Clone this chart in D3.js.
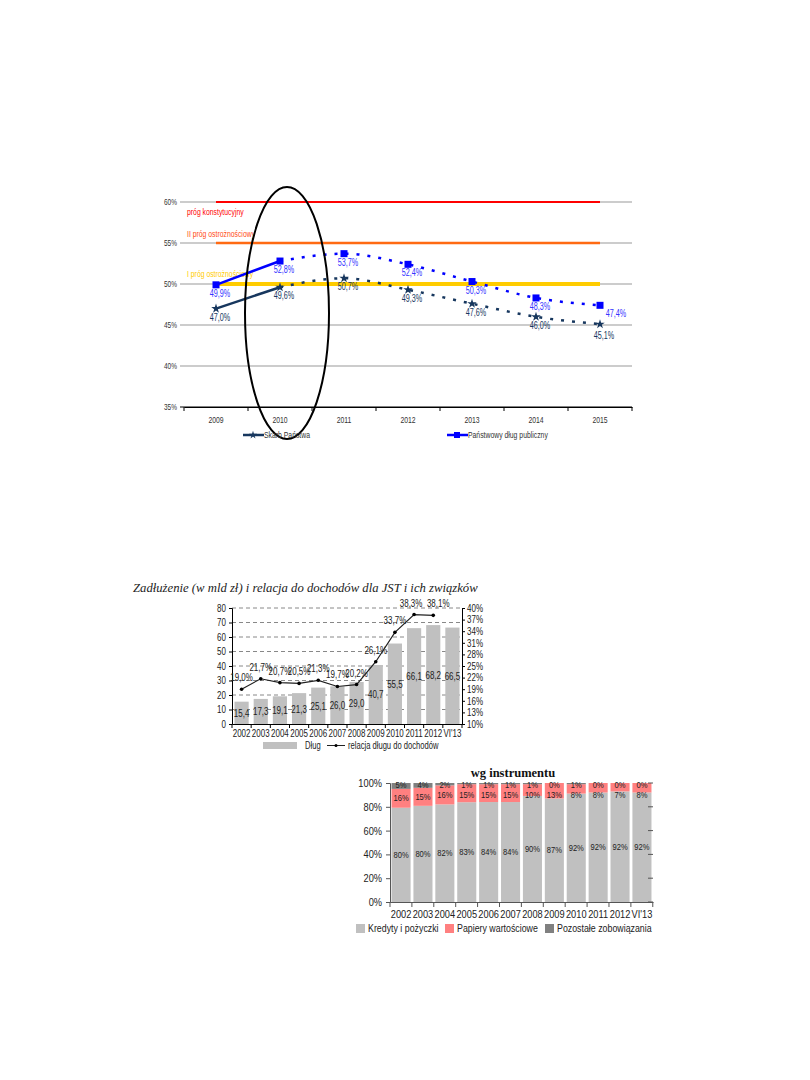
<!DOCTYPE html>
<html><head><meta charset="utf-8">
<script src="https://cdn.jsdelivr.net/npm/d3@7"></script>
<style>body{margin:0;background:#fff}svg{display:block}text{font-family:"Liberation Sans",Arial,sans-serif}</style>
</head><body>
<svg id="c" width="810" height="1080"></svg>
<script>
// ---------- Chart 1 data ----------
const years1 = ["2009","2010","2011","2012","2013","2014","2015"];
const skarbPanstwa = [47.0, 49.6, 50.7, 49.3, 47.6, 46.0, 45.1];
const panstwowyDlug = [49.9, 52.8, 53.7, 52.4, 50.3, 48.3, 47.4];
const yTicks1 = [35, 40, 45, 50, 55, 60];
const thresholds = [
  {value: 60, label: "próg konstytucyjny"},
  {value: 55, label: "II  próg ostrożnościowy"},
  {value: 50, label: "I  próg ostrożnościowy"}
];
const seriesNames1 = ["Skarb Państwa", "Państwowy dług publiczny"];

// ---------- Chart 2 data ----------
const cats2 = ["2002","2003","2004","2005","2006","2007","2008","2009","2010","2011","2012","VI'13"];
const dlug = [15.4, 17.3, 19.1, 21.3, 25.1, 26.0, 29.0, 40.7, 55.5, 66.1, 68.2, 66.5];
const relacja = [19.0, 21.7, 20.7, 20.5, 21.3, 19.7, 20.2, 26.1, 33.7, 38.3, 38.1];
const leftTicks2 = [0,10,20,30,40,50,60,70,80];
const rightTicks2 = [10,13,16,19,22,25,28,31,34,37,40];
const title2 = "Zadłużenie (w mld zł) i relacja do dochodów dla JST i ich związków";
const legend2 = ["Dług", "relacja długu do dochodów"];

// ---------- Chart 3 data ----------
const cats3 = ["2002","2003","2004","2005","2006","2007","2008","2009","2010","2011","2012","VI'13"];
const kredyty = [80, 80, 82, 83, 84, 84, 90, 87, 92, 92, 92, 92];
const papiery = [16, 15, 16, 15, 15, 15, 10, 13, 8, 8, 7, 8];
const pozostale = [5, 4, 2, 1, 1, 1, 1, 0, 1, 0, 0, 0];
const yTicks3 = [0, 20, 40, 60, 80, 100];
const title3 = "wg instrumentu";
const legend3 = ["Kredyty i pożyczki", "Papiery wartościowe", "Pozostałe zobowiązania"];

const fmt1 = v => v.toFixed(1).replace(".", ",");
const svg = d3.select("#c");
const SERIF = '"Liberation Serif","Times New Roman",serif';
// condense text horizontally (the source uses a narrow face)
function narrow(sel, f) {
  sel.each(function(){
    const L = this.getComputedTextLength();
    d3.select(this).attr("textLength", L*f).attr("lengthAdjust","spacingAndGlyphs");
  });
}

// ================= CHART 1 =================
const g1 = svg.append("g");
(function(g){
  const x = d3.scaleBand().domain(years1).range([184, 632]);
  const cx = d => x(d) + x.bandwidth()/2;
  const y = d3.scaleLinear().domain([35, 60]).range([407, 202]);

  g.selectAll(".grid").data(yTicks1).join("line")
    .attr("x1", 180).attr("x2", 632).attr("y1", d=>y(d)).attr("y2", d=>y(d))
    .attr("stroke", d => d===35 ? "#000" : "#999").attr("stroke-width", 1);
  g.selectAll(".yl").data(yTicks1).join("text")
    .attr("x", 177).attr("y", d=>y(d)+3).attr("text-anchor","end")
    .attr("font-size", 9).attr("fill","#333").text(d=>d+"%");
  const ax = g.append("g").attr("transform","translate(0,407)").call(d3.axisBottom(x).tickSize(0).tickPadding(9));
  ax.select(".domain").attr("stroke","#000");
  ax.selectAll("text").attr("font-size", 9.5).attr("fill","#333").attr("font-family", null);
  g.selectAll(".xt").data(d3.range(years1.length+1)).join("line")
    .attr("x1", i=>184+i*x.step()).attr("x2", i=>184+i*x.step())
    .attr("y1", 407).attr("y2", 411).attr("stroke","#000");

  const thColors = ["#FF0000", "#FF6A13", "#FFCC00"];
  const thWidths = [2, 2.5, 4];
  g.selectAll(".th").data(thresholds).join("line")
    .attr("x1", cx(years1[0])).attr("x2", cx(years1[years1.length-1]))
    .attr("y1", d=>y(d.value)).attr("y2", d=>y(d.value))
    .attr("stroke", (d,i)=>thColors[i]).attr("stroke-width", (d,i)=>thWidths[i]);
  const thLabelY = [215, 237, 277];
  const thLabelColors = ["#FF0000", "#FF4A13", "#FFCC00"];
  g.selectAll(".thl").data(thresholds).join("text")
    .attr("x", 187).attr("y", (d,i)=>thLabelY[i])
    .attr("font-size", 9.5).attr("fill", (d,i)=>thLabelColors[i]).text(d=>d.label);

  const series = [
    {vals: skarbPanstwa, color: "#17375E", marker: "star"},
    {vals: panstwowyDlug, color: "#0000FF", marker: "square"}
  ];
  series.forEach((s, si) => {
    const pts = years1.map((c,i)=>({c, v: s.vals[i]}));
    g.append("path").datum(pts.slice(0,2)).attr("d", d3.line().x(d=>cx(d.c)).y(d=>y(d.v)))
      .attr("fill","none").attr("stroke", s.color).attr("stroke-width", 2.5);
    g.append("path").datum(pts.slice(1)).attr("d", d3.line().x(d=>cx(d.c)).y(d=>y(d.v)).curve(d3.curveMonotoneX))
      .attr("fill","none").attr("stroke", s.color).attr("stroke-width", 2.5)
      .attr("stroke-dasharray", "3,8");
    if (s.marker === "square") {
      g.selectAll(".m"+si).data(pts).join("rect")
        .attr("x", d=>cx(d.c)-3.5).attr("y", d=>y(d.v)-3.5).attr("width",7).attr("height",7)
        .attr("fill", s.color);
    } else {
      g.selectAll(".m"+si).data(pts).join("path")
        .attr("d", d3.symbol(d3.symbolStar, 28))
        .attr("transform", d=>`translate(${cx(d.c)},${y(d.v)})`).attr("fill", s.color);
    }
    g.selectAll(".l"+si).data(pts).join("text")
      .attr("x", (d,i)=>cx(d.c) + 4 + (si===1 && i===pts.length-1 ? 12 : 0))
      .attr("y", (d,i)=>y(d.v) + 12 + (si===0 && i===pts.length-1 ? 3 : 0))
      .attr("text-anchor","middle").attr("font-size", 10)
      .attr("fill", si===0 ? "#17375E" : "#3333FF").text(d=>fmt1(d.v)+"%");
  });

  g.append("ellipse").attr("cx", 287).attr("cy", 313).attr("rx", 42).attr("ry", 126)
    .attr("fill","none").attr("stroke","#000").attr("stroke-width", 2);

  const lg = [{x: 243, color:"#17375E", marker:"star"}, {x: 447, color:"#0000FF", marker:"square"}];
  lg.forEach((l, i) => {
    g.append("line").attr("x1", l.x).attr("x2", l.x+21).attr("y1", 435).attr("y2", 435)
      .attr("stroke", l.color).attr("stroke-width", 2.5);
    if (l.marker === "square") g.append("rect").attr("x", l.x+7).attr("y", 432).attr("width",6).attr("height",6).attr("fill", l.color);
    else g.append("path").attr("d", d3.symbol(d3.symbolStar, 20)).attr("transform",`translate(${l.x+10},435)`).attr("fill", l.color);
    g.append("text").attr("x", l.x+21).attr("y", 438).attr("font-size", 9.5).attr("fill","#333").text(seriesNames1[i]);
  });
})(g1);
narrow(g1.selectAll("text"), 0.72);

// ================= CHART 2 =================
const g2 = svg.append("g");
(function(g){
  const x = d3.scaleBand().domain(cats2).range([232, 462]).paddingInner(0.26).paddingOuter(0.13);
  const yL = d3.scaleLinear().domain([0, 80]).range([724, 608]);
  const yR = d3.scaleLinear().domain([10, 40]).range([724, 608]);

  g.selectAll(".grid").data(leftTicks2.filter(d=>d>0)).join("line")
    .attr("x1", 232).attr("x2", 462).attr("y1", d=>yL(d)).attr("y2", d=>yL(d))
    .attr("stroke","#888").attr("stroke-dasharray","4,3").attr("stroke-width",1);

  g.selectAll(".bar").data(dlug).join("rect")
    .attr("x", (d,i)=>x(cats2[i])).attr("width", x.bandwidth())
    .attr("y", d=>yL(d)).attr("height", d=>724-yL(d)).attr("fill","#C0C0C0");

  const la = g.append("g").attr("transform","translate(232,0)")
    .call(d3.axisLeft(yL).tickValues(leftTicks2).tickSize(3).tickPadding(3));
  const ra = g.append("g").attr("transform","translate(462,0)")
    .call(d3.axisRight(yR).tickValues(rightTicks2).tickSize(3).tickPadding(2).tickFormat(d=>d+"%"));
  const ba = g.append("g").attr("transform","translate(0,724)")
    .call(d3.axisBottom(x).tickSize(0).tickPadding(6));
  [la, ra, ba].forEach(a => {
    a.select(".domain").attr("stroke","#000");
    a.selectAll("line").attr("stroke","#000");
    a.selectAll("text").attr("font-size", 10.5).attr("fill","#222").attr("font-family", null);
  });
  g.selectAll(".xt").data(d3.range(cats2.length+1)).join("line")
    .attr("x1", i=>232+i*x.step()).attr("x2", i=>232+i*x.step())
    .attr("y1", 724).attr("y2", 728).attr("stroke","#000");

  g.selectAll(".bl").data(dlug).join("text")
    .attr("x", (d,i)=>x(cats2[i])+x.bandwidth()/2).attr("y", d=>(yL(d)+724)/2+4)
    .attr("text-anchor","middle").attr("font-size", 10.5).attr("fill","#222").text(d=>fmt1(d));

  const pts = relacja.map((v,i)=>({c: cats2[i], v}));
  const cx = d => x(d.c) + x.bandwidth()/2;
  g.append("path").datum(pts).attr("d", d3.line().x(cx).y(d=>yR(d.v)))
    .attr("fill","none").attr("stroke","#222").attr("stroke-width",1.2);
  g.selectAll(".pt").data(pts).join("circle")
    .attr("cx", cx).attr("cy", d=>yR(d.v)).attr("r", 1.8).attr("fill","#000");
  const n = pts.length;
  g.selectAll(".pl").data(pts).join("text")
    .attr("x", (d,i)=>cx(d) + (i===n-2 ? -3 : i===n-1 ? 5 : 0)).attr("y", d=>yR(d.v)-8)
    .attr("text-anchor","middle").attr("font-size", 10.5).attr("fill","#222").text(d=>fmt1(d.v)+"%");

  g.append("rect").attr("x", 263).attr("y", 742).attr("width", 34).attr("height", 7).attr("fill","#C0C0C0");
  g.append("text").attr("x", 305).attr("y", 749).attr("font-size", 10).attr("fill","#222").text(legend2[0]);
  g.append("line").attr("x1", 327).attr("x2", 345).attr("y1", 745.5).attr("y2", 745.5).attr("stroke","#222");
  g.append("circle").attr("cx", 336).attr("cy", 745.5).attr("r", 1.5).attr("fill","#000");
  g.append("text").attr("x", 348).attr("y", 749).attr("font-size", 10).attr("fill","#222").text(legend2[1]);
})(g2);
narrow(g2.selectAll("text"), 0.76);
g2.append("text").attr("x", 133).attr("y", 592)
  .style("font-family", SERIF).style("font-style","italic")
  .attr("font-size", 12.7).attr("fill","#222").text(title2);

// ================= CHART 3 =================
const g3 = svg.append("g");
(function(g){
  const x = d3.scaleBand().domain(cats3).range([390, 653]).paddingInner(0.13).paddingOuter(0.07);
  const y = d3.scaleLinear().domain([0, 1]).range([902, 783]);
  const rows = cats3.map((c,i)=>({c, k: kredyty[i], p: papiery[i], o: pozostale[i]}));
  const layers = d3.stack().keys(["k","p","o"]).offset(d3.stackOffsetExpand)(rows);
  const colors = ["#C0C0C0", "#FF8080", "#808080"];

  layers.forEach((layer, li) => {
    g.selectAll(".s"+li).data(layer).join("rect")
      .attr("x", d=>x(d.data.c)).attr("width", x.bandwidth())
      .attr("y", d=>y(d[1])).attr("height", d=>y(d[0])-y(d[1])).attr("fill", colors[li]);
  });
  layers.forEach((layer, li) => {
    g.selectAll(".t"+li).data(layer).join("text")
      .attr("x", d=>x(d.data.c)+x.bandwidth()/2)
      .attr("y", d=>{
        if (li===2) return y(1)+5;
        const c = (y(d[0])+y(d[1]))/2+3;
        return li===1 ? Math.max(c, y(1)+15) : c;
      })
      .attr("text-anchor","middle").attr("font-size", 9).attr("fill","#222")
      .text(d=>d.data[layer.key]+"%");
  });

  const la = g.append("g").attr("transform","translate(390,0)")
    .call(d3.axisLeft(y).tickValues(yTicks3.map(d=>d/100)).tickSize(4).tickPadding(4).tickFormat(d=>Math.round(d*100)+"%"));
  const ba = g.append("g").attr("transform","translate(0,902)")
    .call(d3.axisBottom(x).tickSize(0).tickPadding(8));
  [la, ba].forEach(a => {
    a.select(".domain").attr("stroke","#555");
    a.selectAll("line").attr("stroke","#555");
    a.selectAll("text").attr("font-size", 11).attr("fill","#222").attr("font-family", null);
  });
  g.selectAll(".xt").data(d3.range(cats3.length+1)).join("line")
    .attr("x1", i=>390+i*x.step()).attr("x2", i=>390+i*x.step())
    .attr("y1", 902).attr("y2", 907).attr("stroke","#555");
  g.selectAll(".rt").data(yTicks3).join("line")
    .attr("x1", 648).attr("x2", 653).attr("y1", d=>y(d/100)).attr("y2", d=>y(d/100)).attr("stroke","#555");

  const lx = [356, 445, 545];
  legend3.forEach((t, i) => {
    g.append("rect").attr("x", lx[i]).attr("y", 924).attr("width", 9).attr("height", 9).attr("fill", colors[i]);
    g.append("text").attr("x", lx[i]+12).attr("y", 932).attr("font-size", 10.5).attr("fill","#222").text(t);
  });
})(g3);
narrow(g3.selectAll("text"), 0.84);
g3.append("text").attr("x", 513).attr("y", 777).attr("text-anchor","middle")
  .style("font-family", SERIF).attr("font-weight","bold").attr("font-size", 12.5)
  .attr("fill","#111").text(title3);
</script>
</body></html>
